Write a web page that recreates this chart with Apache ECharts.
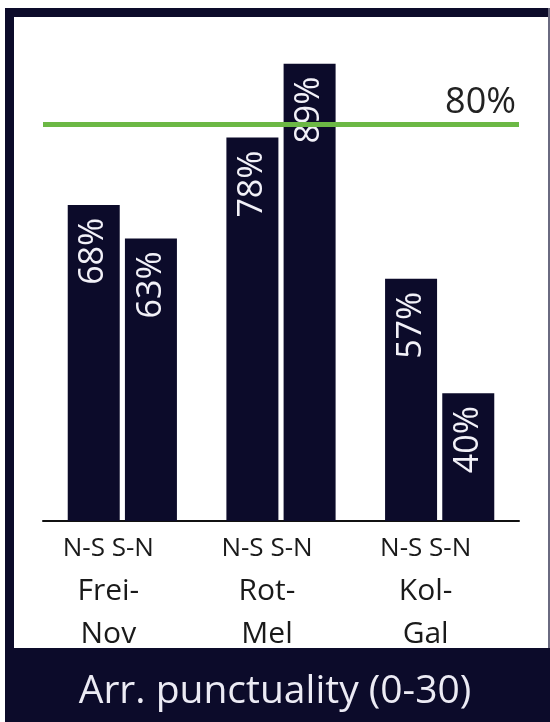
<!DOCTYPE html>
<html>
<head>
<meta charset="utf-8">
<script src="https://cdn.jsdelivr.net/npm/echarts@6/dist/echarts.min.js"></script>
<style>
  html, body { margin: 0; padding: 0; background: #fff; }
  #punctuality { width: 550px; height: 722px; }
</style>
</head>
<body>
<div id="punctuality"></div>
<script>
// routes (x categories) and directions
var routes = ["Frei-Nov", "Rot-Mel", "Kol-Gal"];
var directions = ["N-S", "S-N"];
// arrival punctuality in %, one array per direction
var northSouth = [68, 78, 57];
var southNorth = [63, 89, 40];
// target line
var target = 80;

var navy = "#0c0b2a";
var font = "Open Sans";

var myChart = echarts.init(document.getElementById("punctuality"));

function barLabel() {
  return {
    show: true,
    position: "insideTop",
    rotate: 90,
    align: "right",
    verticalAlign: "middle",
    distance: 13,
    color: "#f2f1f8",
    fontSize: 34,
    fontFamily: font,
    formatter: "{c}%"
  };
}

var option = {
  animation: false,
  backgroundColor: "#fff",
  title: {
    text: "Arr. punctuality (0-30)",
    left: "center",
    top: 667,
    textStyle: {
      color: "#ecebf4",
      fontSize: 39,
      fontWeight: "normal",
      fontFamily: font
    }
  },
  // frame round the chart panel
  graphic: [
    { type: "rect", shape: { x: 5, y: 8, width: 545, height: 9 }, style: { fill: navy }, z: -1 },
    { type: "rect", shape: { x: 5, y: 8, width: 9, height: 714 }, style: { fill: navy }, z: -1 },
    { type: "rect", shape: { x: 5, y: 648, width: 545, height: 74 }, style: { fill: navy }, z: -1 },
    { type: "rect", shape: { x: 548, y: 8, width: 2, height: 640 }, style: { fill: "#6a6a80" }, z: -1 }
  ],
  grid: { left: 43, right: 31, top: 30, bottom: 201 },
  xAxis: {
    type: "category",
    data: routes,
    axisLine: { show: true, lineStyle: { color: "#111", width: 2 } },
    axisTick: { show: false },
    axisLabel: {
      margin: 7,
      padding: [0, 28, 0, 0],
      formatter: function (v) {
        var parts = v.split("-");
        return "{d|" + directions.join(" ") + "}\n{r|" + parts[0] + "-}\n{r|" + parts[1] + "}";
      },
      rich: {
        d: { fontSize: 26, lineHeight: 42, color: "#1a1a1a", fontFamily: font },
        r: { fontSize: 30, lineHeight: 43, color: "#1a1a1a", fontFamily: font }
      }
    }
  },
  yAxis: {
    type: "value",
    min: 21,
    max: 94,
    show: false,
    splitLine: { show: false }
  },
  series: [
    {
      name: directions[0],
      type: "bar",
      data: northSouth,
      barWidth: 52,
      barGap: "10%",
      z: 3,
      itemStyle: { color: navy },
      label: barLabel()
    },
    {
      name: directions[1],
      type: "bar",
      data: southNorth,
      barWidth: 52,
      z: 3,
      itemStyle: { color: navy },
      label: barLabel()
    },
    {
      // holds the 80% target line, drawn behind the bars
      type: "line",
      data: [],
      z: 1,
      silent: true,
      markLine: {
        symbol: "none",
        silent: true,
        lineStyle: { color: "#6cb845", width: 5, type: "solid" },
        label: {
          position: "insideEndTop",
          formatter: "{c}%",
          color: "#222",
          fontSize: 36,
          fontFamily: font,
          distance: 3
        },
        data: [{ yAxis: target }]
      }
    }
  ]
};

myChart.setOption(option);
</script>
</body>
</html>
